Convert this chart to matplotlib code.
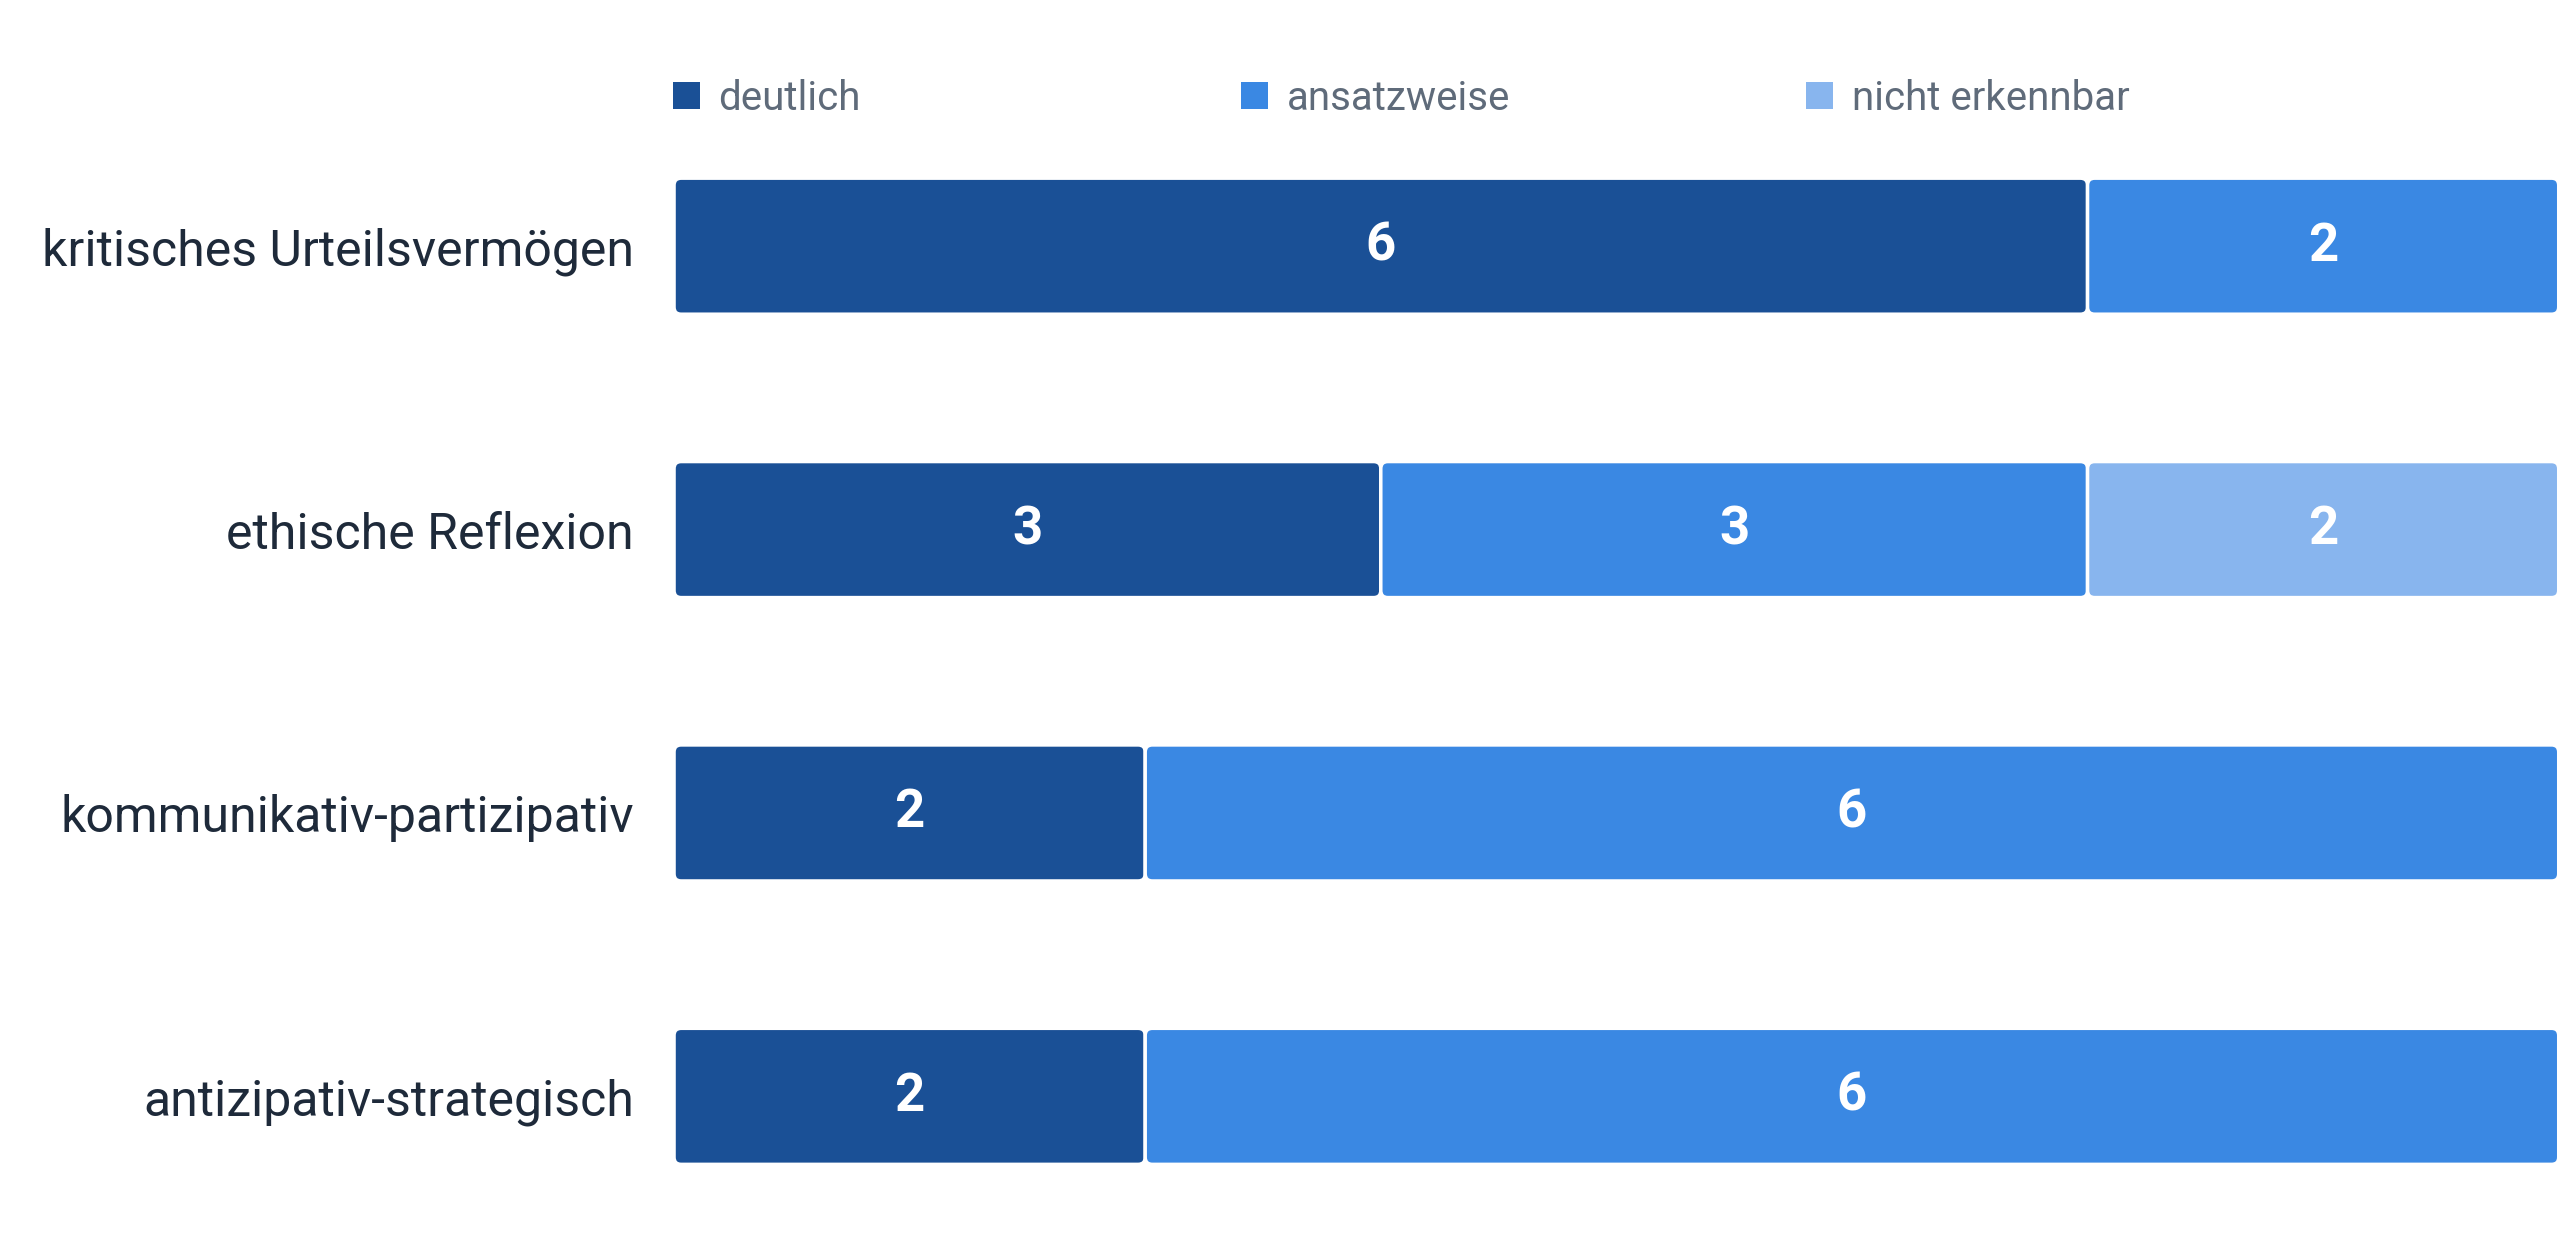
import numpy as np
import matplotlib
matplotlib.use("Agg")
import matplotlib.pyplot as plt
from matplotlib.patches import FancyBboxPatch, Patch

# data
categories = ["kritisches Urteilsvermögen", "ethische Reflexion",
              "kommunikativ-partizipativ", "antizipativ-strategisch"]
series = ["deutlich", "ansatzweise", "nicht erkennbar"]
deutlich = [6, 3, 2, 2]
ansatzweise = [2, 3, 6, 6]
nicht_erkennbar = [0, 2, 0, 0]
colors = ["#1a5096", "#3a88e3", "#88b5ee"]

plt.rcParams['font.family'] = ['Roboto', 'DejaVu Sans']

fig = plt.figure(figsize=(25.6, 12.44), dpi=100)
ax = fig.add_axes([0.2633, 0.0048, 0.7362, 0.9112])

values = [deutlich, ansatzweise, nicht_erkennbar]
y = np.arange(len(categories))
left = np.zeros(len(categories))
bar_h = 0.48

# x unit ~235 px, y unit ~283 px -> keep corners round
for vals, col in zip(values, colors):
    bars = ax.barh(y, vals, left=left, height=bar_h, color=col)
    for rect in bars:
        rect.set_visible(False)
        if rect.get_width() <= 0:
            continue
        fb = FancyBboxPatch((rect.get_x(), rect.get_y()), rect.get_width(), rect.get_height(),
                            boxstyle="round,pad=0,rounding_size=0.03",
                            mutation_aspect=0.83,
                            facecolor=col, edgecolor="white", linewidth=2.5)
        ax.add_patch(fb)
    labels = [str(v) if v > 0 else "" for v in vals]
    ax.bar_label(bars, labels=labels, label_type="center", color="white",
                 fontsize=38, fontweight="bold")
    left += np.array(vals)

ax.set_xlim(0, 8)
ax.set_ylim(3.5, -0.5)
ax.set_yticks(y)
ax.set_yticklabels(categories, fontsize=36, color="#1e2a3a")
ax.tick_params(axis="y", length=0, pad=29)
ax.set_xticks([])
for s in ax.spines.values():
    s.set_visible(False)

# legend, three evenly spaced entries
leg_x = [0.2629, 0.4848, 0.7055]
for name, col, lx in zip(series, colors, leg_x):
    lg = fig.legend(handles=[Patch(facecolor=col)], labels=[name],
                    loc="center left", bbox_to_anchor=(lx, 1 - 98 / 1244),
                    frameon=False, fontsize=29, handlelength=0.68, handleheight=0.68,
                    handletextpad=0.45, borderpad=0, borderaxespad=0)
    for t in lg.get_texts():
        t.set_color("#5f6b7a")

fig.savefig("out.png", dpi=100, facecolor="white")
